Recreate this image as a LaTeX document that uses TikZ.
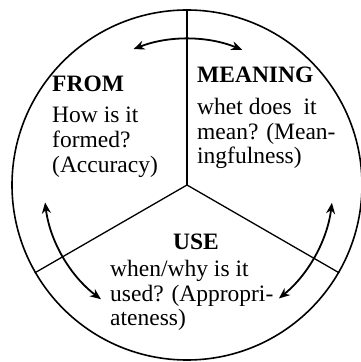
\documentclass[tikz,border=0pt]{standalone}
\usepackage{fontspec}
\setmainfont{Liberation Serif}
\usetikzlibrary{arrows.meta}
\begin{document}
\begin{tikzpicture}[
  x=1pt, y=1pt,
  every node/.style={inner sep=0pt, font=\fontsize{23.5}{24.7}\selectfont},
  heading/.style={font=\fontsize{23.5}{24.7}\selectfont\bfseries},
  body/.style={align=left, anchor=north west},
  swap/.style={<->, >={Stealth[length=11pt,width=9pt]}, line width=1.8pt}
]
  \useasboundingbox (0,0) rectangle (360,362);
  \coordinate (c) at (187,177);
  \node[circle, draw, line width=1.6pt, minimum size=350pt] (ring) at (c) {};

  % sector borders
  \draw[line width=1.3pt] (c) -- (ring.90);
  \draw[line width=1.3pt] (c) -- (ring.210);
  \draw[line width=1.3pt] (c) -- (ring.330);

  % the three questions
  \node[heading, anchor=base west] (form) at (52,270) {FROM};
  \node[body] (formq) at (52,255) {How is it\\formed?\\(Accuracy)};

  \node[heading, anchor=base west] (meaning) at (197,279) {MEANING};
  \node[body] (meaningq) at (197,264) {whet does~ it\\mean? (Mean-\\ingfulness)};

  \node[heading, anchor=base] (use) at (196,112) {USE};
  \node[body] (useq) at (110,102) {when/why is it\\used? (Appropri-\\ateness)};

  % links between the sectors
  \draw[swap] ([shift={(111.5:146)}]c) arc[start angle=111.5, end angle=67.8, radius=146];
  \draw[swap] ([shift={(187:143)}]c) arc[start angle=187, end angle=233, radius=143];
  \draw[swap] ([shift={(-7:146)}]c) arc[start angle=-7, end angle=-51, radius=146];
\end{tikzpicture}
\end{document}
